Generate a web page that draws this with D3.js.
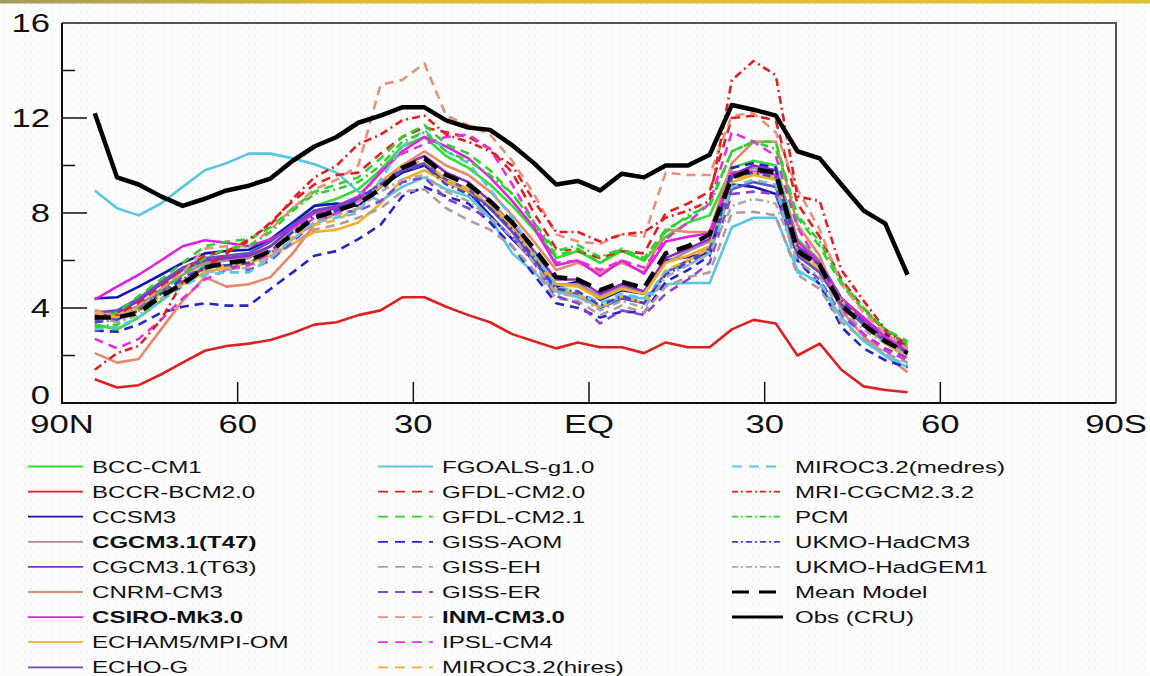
<!DOCTYPE html>
<html>
<head>
<meta charset="utf-8">
<script src="https://cdn.jsdelivr.net/npm/d3@7"></script>
<style>
  html, body { margin: 0; padding: 0; background: #fbfbfb; }
  svg { display: block; }
  text { font-family: "Liberation Sans", Arial, Helvetica, sans-serif; fill: #111; }
</style>
</head>
<body>
<div id="chart"></div>
<script>
// latitude of each zonal band (deg, + = north)
const lats = [84.4, 80.6, 76.9, 73.1, 69.4, 65.6, 61.9, 58.1, 54.4, 50.6,
  46.9, 43.1, 39.4, 35.6, 31.9, 28.1, 24.4, 20.6, 16.9, 13.1,
  9.4, 5.6, 1.9, -1.9, -5.6, -9.4, -13.1, -16.9, -20.6, -24.4,
  -28.1, -31.9, -35.6, -39.4, -43.1, -46.9, -50.6, -54.4]

const xTicks = [90, 60, 30, 0, -30, -60, -90]
const xTickLabels = ['90N', '60', '30', 'EQ', '30', '60', '90S']
const yTicks = [0, 4, 8, 12, 16]
const yMinorTicks = [2, 6, 10, 14]

const modelNames = ['BCC-CM1', 'BCCR-BCM2.0', 'CCSM3', 'CGCM3.1(T47)', 'CGCM3.1(T63)', 'CNRM-CM3',
  'CSIRO-Mk3.0', 'ECHAM5/MPI-OM', 'ECHO-G', 'FGOALS-g1.0', 'GFDL-CM2.0', 'GFDL-CM2.1',
  'GISS-AOM', 'GISS-EH', 'GISS-ER', 'INM-CM3.0', 'IPSL-CM4', 'MIROC3.2(hires)',
  'MIROC3.2(medres)', 'MRI-CGCM2.3.2', 'PCM', 'UKMO-HadCM3', 'UKMO-HadGEM1', 'Mean Model', 'Obs (CRU)']

const bcc    = [3.3,3.1,3.6,4.3,5.1,5.8,6.2,6.3,6.8,7.5, 8.3,8.6,9.0,9.8,10.8,11.2,10.4,9.9,9.2,8.3, 7.3,6.1,6.4,5.9,6.4,6.0,7.0,7.6,7.9,9.9, 10.2,10.0,6.9,6.0,4.4,3.5,2.8,2.4]
const bccr   = [1.0,0.65,0.75,1.2,1.7,2.2,2.4,2.5,2.65,2.95, 3.3,3.4,3.7,3.9,4.45,4.45,4.05,3.7,3.4,2.9, 2.6,2.3,2.55,2.35,2.35,2.1,2.55,2.35,2.35,3.1, 3.5,3.35,2.0,2.5,1.4,0.7,0.55,0.45]
const ccsm   = [4.4,4.45,4.9,5.4,5.9,6.3,6.4,6.45,6.9,7.6, 8.3,8.4,8.3,9.1,9.7,10.0,9.3,8.9,7.9,6.9, 6.0,4.9,5.1,4.35,4.75,4.6,6.0,6.15,6.3,9.2, 9.1,8.8,6.3,5.5,4.2,3.5,2.9,2.3]
const t47    = [3.9,3.7,4.1,4.8,5.4,5.9,6.0,6.1,6.6,7.3, 8.0,8.2,8.5,9.1,9.8,10.1,9.4,9.0,8.3,7.4, 6.3,5.0,5.0,4.5,4.9,4.6,5.9,6.4,6.8,9.5, 9.9,9.6,6.5,5.8,4.3,3.4,2.7,2.2]
const t63    = [3.7,3.8,4.3,5.0,5.6,6.0,6.1,6.2,6.6,7.4, 8.1,8.2,8.5,9.2,10.0,10.4,9.7,9.3,8.5,7.5, 6.4,5.2,5.2,4.6,5.0,4.7,6.1,6.5,6.9,9.6, 10.0,9.8,6.6,5.9,4.4,3.5,2.8,2.3]
const cnrm   = [2.1,1.7,1.85,3.1,4.3,5.3,4.9,5.0,5.3,6.3, 7.5,8.0,8.5,9.3,10.0,10.6,10.0,9.6,8.9,7.9, 6.8,5.6,5.9,5.5,5.9,5.5,7.3,7.2,7.2,10.1, 11.0,11.0,7.5,6.2,3.9,2.8,2.0,1.3]
const csiro  = [4.35,4.9,5.4,6.0,6.6,6.85,6.75,6.6,6.9,7.4, 8.0,8.3,8.7,9.7,10.6,11.2,10.8,10.3,9.5,8.5, 7.4,5.8,6.0,5.35,6.0,5.45,6.8,7.0,7.15,9.7, 9.75,9.6,6.8,5.9,4.4,3.6,2.8,2.1]
const echam  = [3.9,3.7,4.0,4.6,5.0,5.5,5.7,5.9,6.2,6.7, 7.2,7.3,7.6,8.4,9.4,9.8,9.3,8.9,8.3,7.4, 6.2,5.0,4.9,4.4,4.8,4.6,5.9,6.2,6.6,9.3, 9.6,9.4,6.2,5.6,4.1,3.3,2.5,1.9]
const echog  = [3.8,3.9,4.4,5.1,5.7,6.1,6.2,6.3,6.8,7.5, 8.1,8.3,8.6,9.2,9.8,10.1,9.4,9.0,8.2,7.2, 6.0,4.7,4.6,4.0,4.4,4.2,5.5,6.0,6.5,9.0, 9.3,9.1,6.2,5.5,4.1,3.3,2.6,2.1]
const fgoals = [8.95,8.2,7.9,8.4,9.1,9.8,10.1,10.5,10.5,10.3, 10.05,9.7,8.9,8.5,9.1,9.5,9.0,8.7,7.8,6.3, 5.5,4.7,4.45,4.05,4.5,4.4,5.0,5.05,5.05,7.4, 7.8,7.8,5.6,5.0,3.6,2.6,2.0,1.5]
const gfdl20 = [3.6,3.7,4.2,4.9,5.6,6.2,6.4,6.8,7.6,8.5, 9.2,9.6,9.7,10.5,11.2,11.6,11.4,11.2,10.7,9.7, 8.0,6.5,6.4,6.1,6.4,6.3,8.0,8.4,8.9,12.0, 12.1,11.9,8.4,7.0,5.2,4.0,3.0,2.5]
const gfdl21 = [3.5,3.8,4.5,5.2,5.9,6.6,6.8,6.9,7.4,8.2, 8.9,9.2,9.5,10.3,11.2,11.7,10.9,10.5,9.8,8.8, 7.6,6.2,6.5,5.9,6.5,6.1,7.3,7.8,8.4,10.6, 11.0,11.0,7.8,6.6,5.0,3.9,3.1,2.6]
const aom    = [3.05,3.0,3.3,3.8,4.05,4.2,4.1,4.1,4.8,5.5, 6.2,6.4,6.9,7.5,8.7,9.1,8.7,8.4,7.6,6.6, 5.4,4.2,4.0,3.6,3.85,3.8,5.1,5.6,6.2,9.9, 10.1,9.9,6.0,5.0,3.2,2.3,1.8,1.5]
const eh     = [3.4,3.5,3.9,4.6,5.2,5.6,5.8,5.8,6.1,6.7, 7.3,7.5,7.8,8.2,8.9,9.0,8.2,7.7,7.3,6.6, 5.6,4.4,4.3,3.7,4.1,3.8,4.9,5.3,5.5,8.0, 8.05,7.9,5.4,4.8,3.4,2.7,2.1,1.7]
const er     = [3.5,3.6,4.0,4.7,5.3,5.7,5.8,5.6,6.0,6.8, 7.6,8.0,8.1,8.5,9.3,9.5,8.6,8.2,7.8,7.0, 5.9,4.5,4.2,3.35,3.9,3.7,4.6,5.2,5.9,8.8, 8.9,8.8,6.0,5.2,3.7,2.9,2.3,1.9]
const inm    = [3.9,3.6,4.1,4.8,5.5,6.5,6.6,6.6,7.3,8.2, 9.0,9.4,10.0,13.4,13.6,14.3,12.1,11.7,11.3,10.2, 8.8,7.1,6.8,6.7,7.1,7.0,9.7,9.6,9.6,12.1, 12.2,11.4,9.0,7.3,5.0,3.8,2.9,2.3]
const ipsl   = [2.7,2.3,2.7,3.5,4.4,5.2,5.6,5.8,6.3,7.1, 7.8,8.0,8.5,9.8,10.5,10.9,11.2,11.3,10.7,9.2, 7.6,5.9,6.0,5.6,6.0,5.7,6.9,7.6,8.4,11.4, 11.0,10.4,7.4,5.8,4.0,2.9,2.2,1.8]
const hires  = [3.8,3.6,3.9,4.5,5.0,5.5,5.8,5.9,6.4,7.0, 7.5,7.7,8.2,9.2,10.0,10.2,9.4,9.0,8.4,7.5, 6.2,4.8,4.6,4.0,4.5,4.2,5.6,6.0,6.5,9.4, 9.7,9.5,6.4,5.7,4.3,3.4,2.6,2.0]
const medres = [3.1,3.2,3.6,4.3,4.9,5.4,5.5,5.5,6.1,6.9, 7.6,7.8,8.0,9.4,10.8,11.5,10.6,10.1,9.0,7.8, 6.3,4.9,4.7,4.2,4.6,4.4,5.5,5.8,6.3,9.1, 9.4,9.2,5.5,5.1,3.6,2.6,2.0,1.6]
const mri    = [1.4,2.1,2.4,3.5,5.1,5.7,6.3,6.9,7.5,8.6, 9.5,10.0,10.9,11.3,11.9,12.1,11.3,11.0,10.6,10.0, 8.5,7.2,7.2,6.8,7.1,7.2,7.8,8.1,8.5,13.6, 14.4,13.8,8.7,8.5,5.6,4.3,3.1,2.4]
const pcm    = [3.2,3.3,3.9,4.7,5.4,6.1,6.5,6.6,7.2,8.1, 8.8,9.0,9.3,10.0,11.0,11.4,10.6,10.2,9.6,8.8, 7.6,6.4,6.65,6.15,6.5,6.0,7.2,7.9,8.3,10.6, 11.0,10.7,7.9,6.8,5.1,4.0,3.1,2.5]
const hadcm3 = [3.4,3.5,3.9,4.6,5.2,5.7,5.8,5.9,6.4,7.2, 7.9,8.1,8.6,9.2,9.8,10.0,9.2,8.8,8.2,7.3, 6.1,4.8,4.7,4.1,4.5,4.2,5.4,5.9,6.4,9.5, 9.7,9.5,6.6,5.8,4.3,3.4,2.7,2.1]
const hadgem = [3.6,3.4,3.7,4.4,5.0,5.5,5.6,5.7,6.2,6.9, 7.6,7.9,8.2,8.9,9.4,9.6,8.9,8.5,7.8,7.0, 5.9,4.6,4.5,3.9,4.3,4.0,5.3,5.8,6.3,8.3, 8.6,8.4,6.0,5.3,3.9,3.1,2.5,2.0]
const meanModel = [3.6,3.6,3.8,4.5,5.0,5.7,5.9,6.0,6.4,7.1, 7.8,8.1,8.4,9.0,9.9,10.3,9.6,9.2,8.5,7.6, 6.5,5.3,5.2,4.75,5.1,4.85,6.3,6.6,7.1,9.5, 9.85,9.7,6.4,5.8,4.1,3.3,2.6,2.1]
const obsCRU = [12.2,9.5,9.2,8.7,8.3,8.6,8.95,9.15,9.45,10.2, 10.8,11.2,11.8,12.1,12.45,12.45,11.9,11.6,11.5,10.85, 10.1,9.2,9.35,8.95,9.65,9.5,10.0,10.0,10.45,12.55, 12.35,12.1,10.6,10.3,9.2,8.1,7.55,5.4]

const seriesValues = [bcc, bccr, ccsm, t47, t63, cnrm, csiro, echam, echog, fgoals, gfdl20, gfdl21,
  aom, eh, er, inm, ipsl, hires, medres, mri, pcm, hadcm3, hadgem, meanModel, obsCRU]

// styles, one per series (same order as modelNames)
const DASH = '9,6', DASHDOT = '8,4,2,4', LONG = '16,9'
const styles = [
  { c: '#33dd33', d: null }, { c: '#dd2020', d: null }, { c: '#1414b4', d: null },
  { c: '#b08c94', d: null, bold: true }, { c: '#8a2cc8', d: null }, { c: '#e8886a', d: null },
  { c: '#e020e0', d: null, bold: true }, { c: '#f0b028', d: null }, { c: '#6a4cc4', d: null },
  { c: '#58c8e0', d: null }, { c: '#e02020', d: DASH }, { c: '#30d030', d: DASH },
  { c: '#2424c8', d: DASH }, { c: '#b49a9a', d: DASH }, { c: '#8444d4', d: DASH },
  { c: '#e8907e', d: DASH, bold: true }, { c: '#e030e0', d: DASH }, { c: '#f0b030', d: DASH },
  { c: '#58c8e0', d: DASH }, { c: '#e02020', d: DASHDOT }, { c: '#30d030', d: DASHDOT },
  { c: '#4444c4', d: DASHDOT }, { c: '#a8a8a8', d: DASHDOT },
  { c: '#000', d: LONG, w: 4.5 }, { c: '#000', d: null, w: 4.5 }
]

const width = 1150, height = 676
const margin = { left: 62, right: 34, top: 23, bottom: 273 }

const svg = d3.select('#chart').append('svg')
  .attr('width', width)
  .attr('height', height)

// dotted page texture + top bar
const defs = svg.append('defs')
const pat = defs.append('pattern')
  .attr('id', 'dots').attr('width', 7).attr('height', 8)
  .attr('patternUnits', 'userSpaceOnUse')
pat.append('rect').attr('width', 7).attr('height', 8).attr('fill', '#fcfcfc')
pat.append('rect').attr('x', 3).attr('y', 4).attr('width', 1).attr('height', 1).attr('fill', '#d9d9d9')
const grad = defs.append('linearGradient').attr('id', 'bar')
grad.append('stop').attr('offset', '0%').attr('stop-color', '#a09c5c')
grad.append('stop').attr('offset', '30%').attr('stop-color', '#d8bc34')
grad.append('stop').attr('offset', '100%').attr('stop-color', '#e0c234')

svg.append('rect').attr('width', width).attr('height', height).attr('fill', 'url(#dots)')
svg.append('rect').attr('width', width).attr('height', 3.5).attr('fill', 'url(#bar)')

// scales
const x = d3.scaleLinear().domain([90, -90]).range([margin.left, width - margin.right])
const y = d3.scaleLinear().domain([0, 16]).range([height - margin.bottom, margin.top])

// frame
const x0 = x(90), x1 = x(-90), y0 = y(0), y1 = y(16)
svg.append('path')
  .attr('d', `M${x0},${y1}H${x1}V${y0}`)
  .attr('fill', 'none').attr('stroke', '#555').attr('stroke-width', 2)
svg.append('path')
  .attr('d', `M${x0},${y1}V${y0}H${x1}`)
  .attr('fill', 'none').attr('stroke', '#111').attr('stroke-width', 2)

// ticks (inward)
svg.append('g').selectAll('line').data(yTicks.slice(1, -1)).join('line')
  .attr('x1', x0).attr('x2', x0 + 25).attr('y1', d => y(d)).attr('y2', d => y(d))
  .attr('stroke', '#111').attr('stroke-width', 1.5)
svg.append('g').selectAll('line').data(yMinorTicks).join('line')
  .attr('x1', x0).attr('x2', x0 + 13).attr('y1', d => y(d)).attr('y2', d => y(d))
  .attr('stroke', '#111').attr('stroke-width', 1.5)
svg.append('g').selectAll('line').data(xTicks.slice(1, -1)).join('line')
  .attr('x1', d => x(d)).attr('x2', d => x(d)).attr('y1', y0).attr('y2', y0 - 21)
  .attr('stroke', '#111').attr('stroke-width', 1.5)

// tick labels (the source picture is stretched horizontally)
// the "0" sits a little higher so it clears the 90N label below it
svg.append('g').selectAll('text').data(yTicks).join('text')
  .attr('transform', d => `translate(50, ${y(d) - (d === 0 ? 8 : 0)}) scale(1.36, 1)`)
  .attr('text-anchor', 'end').attr('dy', '0.36em')
  .style('font-size', '25.5px')
  .text(d => d)
svg.append('g').selectAll('text').data(xTicks).join('text')
  .attr('transform', d => `translate(${x(d)}, 433) scale(1.36, 1)`)
  .attr('text-anchor', 'middle')
  .style('font-size', '25.5px')
  .text((d, i) => xTickLabels[i])

// lines
const line = d3.line()
  .x((d, i) => x(lats[i]))
  .y(d => y(d))

svg.append('g').selectAll('path')
  .data(seriesValues)
  .join('path')
    .attr('d', line)
    .attr('fill', 'none')
    .attr('stroke', (d, i) => styles[i].c)
    .attr('stroke-width', (d, i) => styles[i].w || 2.6)
    .attr('stroke-dasharray', (d, i) => styles[i].d)
    .attr('stroke-linejoin', 'round')

// legend
const colX = [28, 378, 732]
const rowY0 = 466.5, rowH = 25.1
const legend = svg.append('g').selectAll('g')
  .data(modelNames)
  .join('g')
    .attr('transform', (d, i) => {
      const col = i < 9 ? 0 : i < 18 ? 1 : 2
      const row = i < 9 ? i : i < 18 ? i - 9 : i - 18
      return `translate(${colX[col]}, ${rowY0 + row * rowH})`
    })

legend.append('line')
  .attr('x1', 0).attr('x2', (d, i) => i >= 18 ? 51 : 55)
  .attr('stroke', (d, i) => styles[i].c)
  .attr('stroke-width', (d, i) => styles[i].w ? 3 : 1.8)
  .attr('stroke-dasharray', (d, i) => {
    const s = styles[i]
    if (s.d === DASH) return '10,7'
    if (s.d === DASHDOT) return '6,3,2,3'
    if (s.d === LONG) return '17,10'
    return null
  })

legend.append('text')
  .attr('transform', (d, i) => `translate(${i >= 18 ? 63 : 64}, 6) scale(1.46, 1)`)
  .style('font-size', '16.5px')
  .style('font-weight', (d, i) => styles[i].bold ? 'bold' : 'normal')
  .text(d => d)
</script>
</body>
</html>
